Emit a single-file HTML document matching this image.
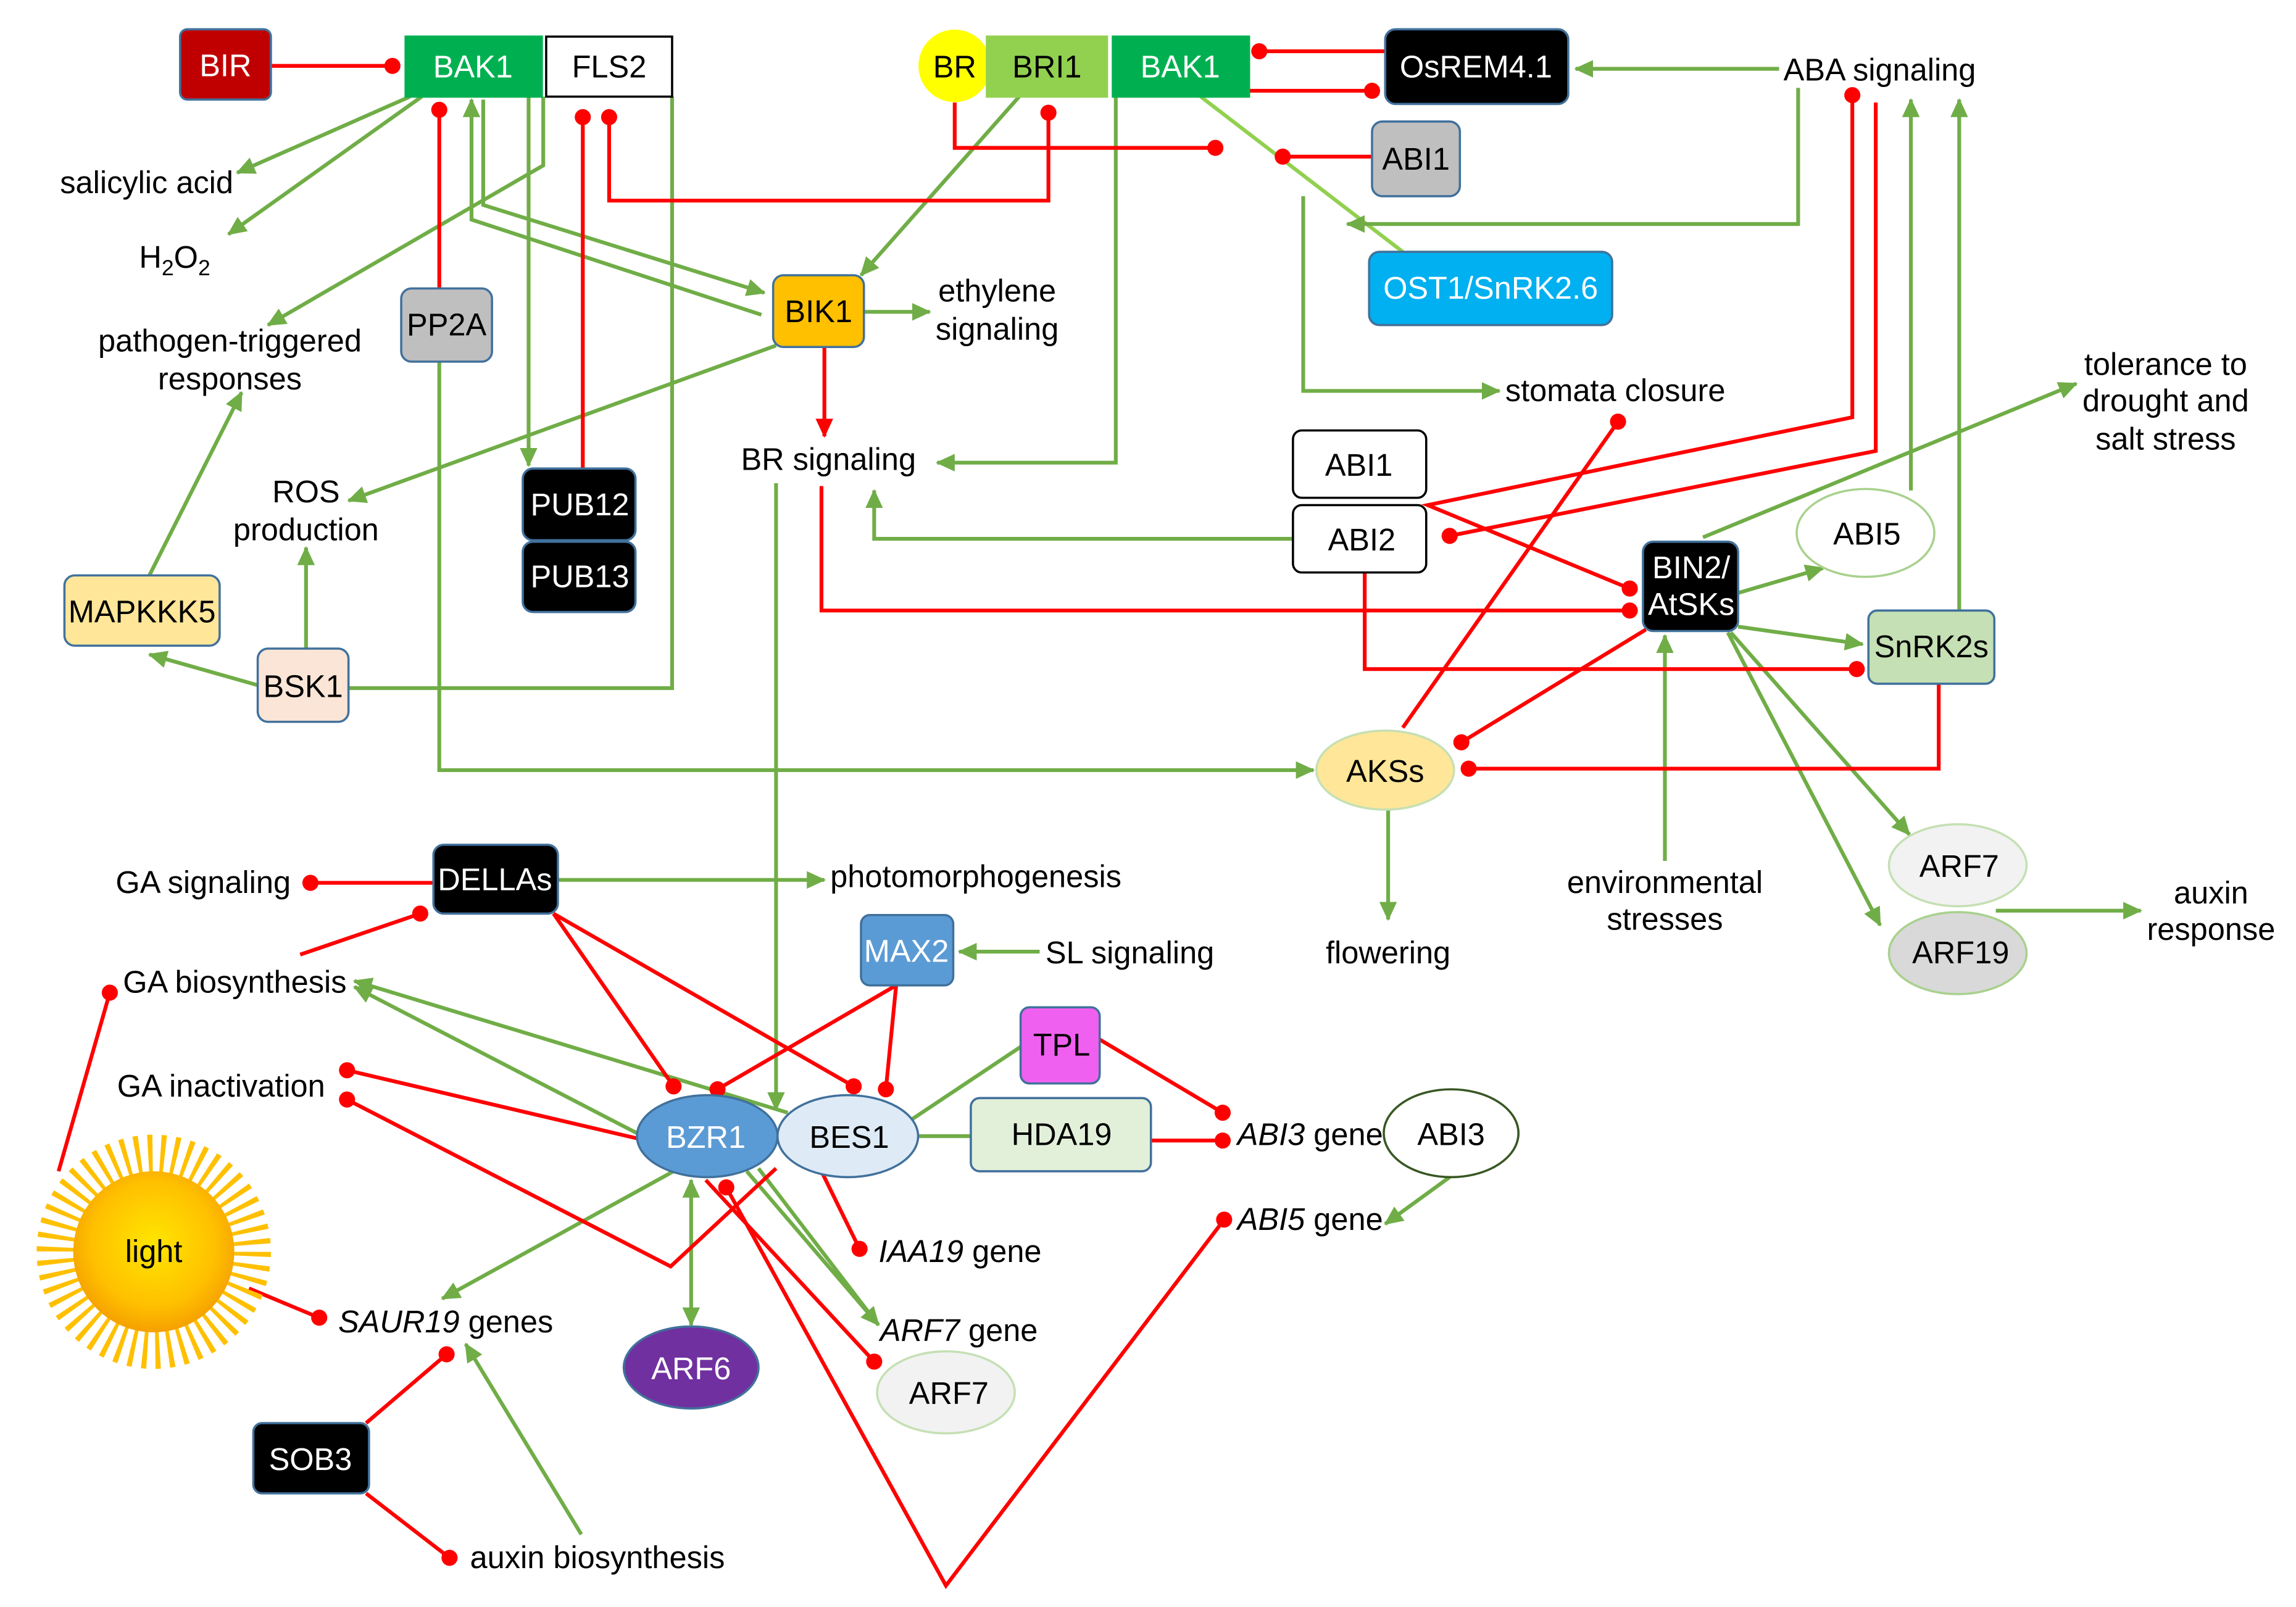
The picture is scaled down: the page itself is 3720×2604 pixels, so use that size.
<!DOCTYPE html>
<html><head><meta charset="utf-8"><style>
html,body{margin:0;padding:0;background:#fff}
svg{display:block}
text{font-family:"Liberation Sans",Arial,sans-serif;font-size:21.3px;fill:#000}
.w{fill:#fff}
.c{text-anchor:middle}
.g{stroke:#70ad47;stroke-width:2.6;fill:none}
.r{stroke:#ff0000;stroke-width:2.6;fill:none}
.ga{marker-end:url(#ag)}
.rd{marker-end:url(#dr)}
.i{font-style:italic}
</style></head><body>
<svg width="3720" height="2604" viewBox="0 0 1568 1097.6" preserveAspectRatio="none" xmlns="http://www.w3.org/2000/svg">
<defs>
<marker id="ag" markerUnits="userSpaceOnUse" markerWidth="14" markerHeight="12" refX="12" refY="6" orient="auto"><path d="M0,0 L13,6 L0,12 z" fill="#70ad47"/></marker>
<marker id="as" markerUnits="userSpaceOnUse" markerWidth="14" markerHeight="12" refX="1" refY="6" orient="auto"><path d="M13,0 L0,6 L13,12 z" fill="#70ad47"/></marker>
<marker id="ar" markerUnits="userSpaceOnUse" markerWidth="14" markerHeight="12" refX="12" refY="6" orient="auto"><path d="M0,0 L13,6 L0,12 z" fill="#ff0000"/></marker>
<marker id="dr" markerUnits="userSpaceOnUse" markerWidth="14" markerHeight="14" refX="7" refY="7" orient="auto"><circle cx="7" cy="7" r="5.5" fill="#ff0000"/></marker>
<radialGradient id="sun" cx="50%" cy="45%" r="55%"><stop offset="0" stop-color="#ffe600"/><stop offset="0.7" stop-color="#ffc000"/><stop offset="1" stop-color="#f5a000"/></radialGradient>
</defs>

<g class="g">
<path class="ga" d="M280,66 L162,118"/>
<path class="ga" d="M288,66 L156,160"/>
<path class="ga" d="M371,66 L371,113 L183,222"/>
<path class="ga" d="M330,68 L330,140 L522,200"/>
<path style="marker-end:url(#ag)" d="M520,215 L322,150 L322,68"/>
<path class="ga" d="M361,66 L361,318"/>
<path d="M459,66 L459,470 L238,470"/>
<path class="ga" d="M696,66 L588,188"/>
<path class="ga" d="M590,213 L635,213"/>
<path class="ga" d="M530,236 L238,342"/>
<path class="ga" d="M762,66 L762,316 L640,316"/>
<path stroke="#92d050" d="M820,66 L958,172"/>
<path class="ga" d="M1215,47 L1076,47"/>
<path class="ga" d="M1228,60 L1228,153 L920,153"/>
<path class="ga" d="M890,134 L890,267 L1024,267"/>
<path class="ga" d="M883,368 L597,368 L597,335"/>
<path class="ga" d="M1163,367 L1418,262"/>
<path class="ga" d="M1305,335 L1305,68"/>
<path class="ga" d="M1338,417 L1338,68"/>
<path class="ga" d="M1187,405 L1245,388"/>
<path class="ga" d="M1187,428 L1272,440"/>
<path class="ga" d="M1182,432 L1304,570"/>
<path class="ga" d="M1180,432 L1284,632"/>
<path class="ga" d="M1137,588 L1137,434"/>
<path class="ga" d="M1363,622 L1462,622"/>
<path class="ga" d="M948,553 L948,628"/>
<path class="ga" d="M300,247 L300,526 L897,526"/>
<path class="ga" d="M530,330 L530,758"/>
<path class="ga" d="M176,468 L102,447"/>
<path class="ga" d="M209,443 L209,374"/>
<path class="ga" d="M102,393 L165,268"/>
<path class="ga" d="M381,601 L563,601"/>
<path class="ga" d="M710,650 L655,650"/>
<path class="ga" d="M437,775 L242,674"/>
<path class="ga" d="M538,760 L242,670"/>
<path class="ga" d="M460,800 L302,887"/>
<path style="marker-end:url(#ag);marker-start:url(#as)" d="M472,806 L472,905"/>
<path class="ga" d="M510,800 L600,905"/>
<path d="M518,798 L596,900"/>
<path d="M622,765 L697,715"/>
<path d="M627,776 L663,776"/>
<path class="ga" d="M990,804 L946,836"/>
<path class="ga" d="M397,1048 L318,918"/>
</g>

<g class="r">
<path class="rd" d="M185,45 L268,45"/>
<path class="rd" d="M300,197 L300,75"/>
<path class="rd" d="M398,320 L398,80"/>
<path style="marker-start:url(#dr);marker-end:url(#dr)" d="M416,80 L416,137 L716,137 L716,77"/>
<path class="rd" d="M652,70 L652,101 L830,101"/>
<path class="rd" d="M937,107 L876,107"/>
<path class="rd" d="M946,35 L860,35"/>
<path class="rd" d="M853,62 L937,62"/>
<path style="marker-end:url(#ar)" d="M563,237 L563,298"/>
<path style="marker-start:url(#dr);marker-end:url(#dr)" d="M1265,65 L1265,285 L975,345 L1113,402"/>
<path class="rd" d="M1281,70 L1281,308 L990,366"/>
<path class="rd" d="M958,497 L1105,288"/>
<path class="rd" d="M561,332 L561,417 L1113,417"/>
<path class="rd" d="M932,391 L932,457 L1268,457"/>
<path class="rd" d="M1124,430 L998,507"/>
<path class="rd" d="M1324,467 L1324,525 L1003,525"/>
<path class="rd" d="M296,603 L212,603"/>
<path class="rd" d="M205,652 L287,624"/>
<path class="rd" d="M378,624 L460,742"/>
<path class="rd" d="M378,624 L583,742"/>
<path class="rd" d="M612,673 L490,744"/>
<path class="rd" d="M612,673 L605,744"/>
<path class="rd" d="M437,778 L237,731"/>
<path class="rd" d="M530,798 L458,865 L237,751"/>
<path class="rd" d="M560,798 L587,853"/>
<path class="rd" d="M482,806 L597,930"/>
<path style="marker-start:url(#dr);marker-end:url(#dr)" d="M496,811 L646,1083 L836,833"/>
<path class="rd" d="M751,710 L835,760"/>
<path class="rd" d="M786,779 L835,779"/>
<path class="rd" d="M40,800 L75,678"/>
<path class="rd" d="M170,880 L218,900"/>
<path class="rd" d="M250,972 L305,925"/>
<path class="rd" d="M250,1020 L307,1064"/>
</g>

<g stroke="#41719c" stroke-width="1.5">
<rect x="123" y="20" width="62" height="48" rx="5" fill="#c00000"/>
<rect x="277" y="25" width="93" height="41" fill="#00b050" stroke="#00b050"/>
<rect x="373" y="25" width="86" height="41" fill="#fff" stroke="#000"/>
<circle cx="652" cy="45" r="24" fill="#ffff00" stroke="#ffff00"/>
<rect x="674" y="25" width="82" height="41" fill="#92d050" stroke="#92d050"/>
<rect x="760" y="25" width="93" height="41" fill="#00b050" stroke="#00b050"/>
<rect x="946" y="20" width="125" height="51" rx="7" fill="#000"/>
<rect x="937" y="83" width="60" height="51" rx="7" fill="#bfbfbf"/>
<rect x="935" y="172" width="166" height="50" rx="7" fill="#00b0f0"/>
<rect x="274" y="197" width="62" height="50" rx="7" fill="#bfbfbf"/>
<rect x="528" y="188" width="62" height="49" rx="7" fill="#ffc000"/>
<rect x="883" y="294" width="91" height="46" rx="6" fill="#fff" stroke="#000"/>
<rect x="883" y="345" width="91" height="46" rx="6" fill="#fff" stroke="#000"/>
<rect x="357" y="320" width="77" height="49" rx="7" fill="#000"/>
<rect x="357" y="370" width="77" height="48" rx="7" fill="#000"/>
<rect x="44" y="393" width="106" height="48" rx="7" fill="#ffe699"/>
<rect x="176" y="443" width="62" height="50" rx="7" fill="#fbe5d6"/>
<rect x="1122" y="370" width="65" height="61" rx="7" fill="#000"/>
<ellipse cx="1274" cy="364" rx="47" ry="30" fill="#fff" stroke="#a9d18e"/>
<rect x="1276" y="417" width="86" height="50" rx="6" fill="#c5e0b4"/>
<ellipse cx="946" cy="526" rx="47" ry="27" fill="#ffe699" stroke="#c5e0b4"/>
<ellipse cx="1337" cy="591" rx="47" ry="28" fill="#f2f2f2" stroke="#c5e0b4"/>
<ellipse cx="1337" cy="651" rx="47" ry="28" fill="#d9d9d9" stroke="#a9d18e"/>
<rect x="296" y="577" width="85" height="47" rx="7" fill="#000"/>
<rect x="588" y="625" width="63" height="48" rx="6" fill="#5b9bd5"/>
<rect x="697" y="688" width="54" height="52" rx="6" fill="#f060f0"/>
<ellipse cx="483" cy="776" rx="48" ry="28" fill="#5b9bd5"/>
<ellipse cx="579" cy="776" rx="48" ry="28" fill="#deebf7"/>
<rect x="663" y="750" width="123" height="50" rx="6" fill="#e2f0d9"/>
<ellipse cx="991" cy="774" rx="46" ry="30" fill="#fff" stroke="#385723"/>
<ellipse cx="646" cy="951" rx="47" ry="28" fill="#f2f2f2" stroke="#c5e0b4"/>
<ellipse cx="472" cy="934" rx="46" ry="28" fill="#7030a0"/>
<rect x="173" y="972" width="79" height="48" rx="6" fill="#000"/>
</g>
<circle cx="105" cy="855" r="66" fill="none" stroke="#ffc000" stroke-width="28" stroke-dasharray="3 5.3"/>
<circle cx="105" cy="855" r="55" fill="url(#sun)"/>

<g class="c">
<text x="154" y="52" class="w">BIR</text>
<text x="323" y="53" class="w">BAK1</text>
<text x="416" y="53">FLS2</text>
<text x="652" y="53">BR</text>
<text x="715" y="53">BRI1</text>
<text x="806" y="53" class="w">BAK1</text>
<text x="1008" y="53" class="w">OsREM4.1</text>
<text x="967" y="116">ABI1</text>
<text x="1018" y="204" class="w">OST1/SnRK2.6</text>
<text x="305" y="229">PP2A</text>
<text x="559" y="220">BIK1</text>
<text x="928" y="325">ABI1</text>
<text x="930" y="376">ABI2</text>
<text x="396" y="352" class="w">PUB12</text>
<text x="396" y="401" class="w">PUB13</text>
<text x="97" y="425">MAPKKK5</text>
<text x="207" y="476">BSK1</text>
<text x="1155" y="395" class="w">BIN2/</text>
<text x="1155" y="420" class="w">AtSKs</text>
<text x="1275" y="372">ABI5</text>
<text x="1319" y="449">SnRK2s</text>
<text x="946" y="534">AKSs</text>
<text x="1338" y="599">ARF7</text>
<text x="1339" y="658">ARF19</text>
<text x="338" y="608" class="w">DELLAs</text>
<text x="619" y="657" class="w">MAX2</text>
<text x="725" y="721">TPL</text>
<text x="482" y="784" class="w">BZR1</text>
<text x="580" y="784">BES1</text>
<text x="725" y="782">HDA19</text>
<text x="991" y="782">ABI3</text>
<text x="648" y="959">ARF7</text>
<text x="472" y="942" class="w">ARF6</text>
<text x="212" y="1004" class="w">SOB3</text>
<text x="105" y="862">light</text>
</g>

<text x="41" y="132">salicylic acid</text>
<text x="95" y="183">H<tspan font-size="15" dy="5">2</tspan><tspan dy="-5">O</tspan><tspan font-size="15" dy="5">2</tspan></text>
<g class="c">
<text x="157" y="240">pathogen-triggered</text>
<text x="157" y="266">responses</text>
<text x="209" y="343">ROS</text>
<text x="209" y="369">production</text>
<text x="681" y="206">ethylene</text>
<text x="681" y="232">signaling</text>
<text x="1479" y="256">tolerance to</text>
<text x="1479" y="281">drought and</text>
<text x="1479" y="307">salt stress</text>
<text x="1137" y="610">environmental</text>
<text x="1137" y="635">stresses</text>
<text x="948" y="658">flowering</text>
<text x="1510" y="617">auxin</text>
<text x="1510" y="642">response</text>
</g>
<text x="1218" y="55">ABA signaling</text>
<text x="506" y="321">BR signaling</text>
<text x="1028" y="274">stomata closure</text>
<text x="79" y="610">GA signaling</text>
<text x="567" y="606">photomorphogenesis</text>
<text x="714" y="658">SL signaling</text>
<text x="84" y="678">GA biosynthesis</text>
<text x="80" y="749">GA inactivation</text>
<text x="845" y="782"><tspan class="i">ABI3</tspan> gene</text>
<text x="845" y="840"><tspan class="i">ABI5</tspan> gene</text>
<text x="600" y="862"><tspan class="i">IAA19</tspan> gene</text>
<text x="601" y="916"><tspan class="i">ARF7</tspan> gene</text>
<text x="231" y="910"><tspan class="i">SAUR19</tspan> genes</text>
<text x="321" y="1071">auxin biosynthesis</text>
</svg>
</body></html>
